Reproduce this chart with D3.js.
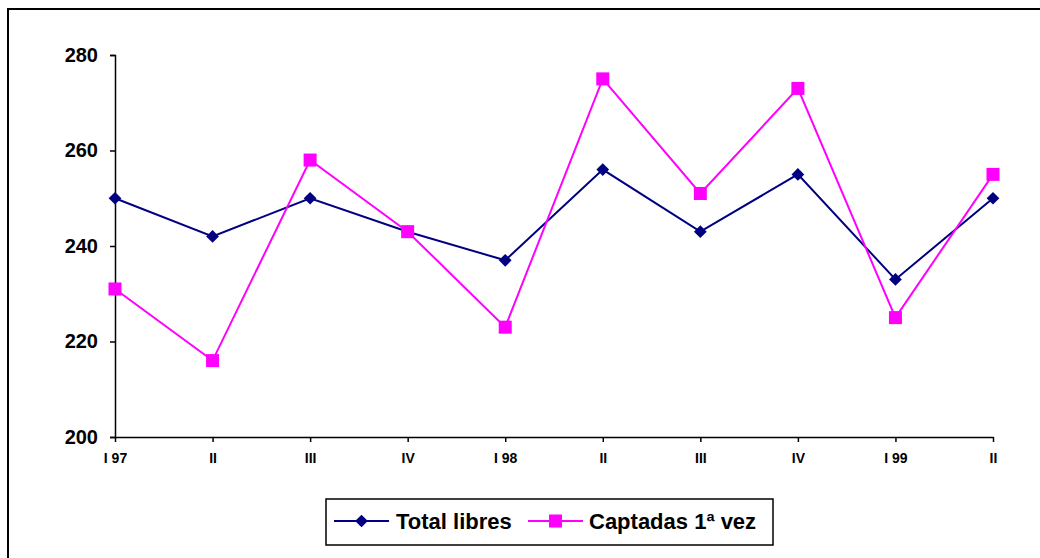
<!DOCTYPE html>
<html>
<head>
<meta charset="utf-8">
<script src="https://cdn.jsdelivr.net/npm/d3@7"></script>
<style>
  html, body { margin: 0; padding: 0; background: #fff; }
  svg { display: block; font-family: Arial, "Liberation Sans", sans-serif; font-weight: bold; }
</style>
</head>
<body>
<svg id="chart" width="1040" height="558"></svg>
<script>
// Quarterly periods
const categories = ["I 97", "II", "III", "IV", "I 98", "II", "III", "IV", "I 99", "II"];
// Series values
const totalLibres = [250, 242, 250, 243, 237, 256, 243, 255, 233, 250];
const captadas = [231, 216, 258, 243, 223, 275, 251, 273, 225, 255];
// Y axis ticks
const yTicks = [200, 220, 240, 260, 280];
const seriesNames = ["Total libres", "Captadas 1ª vez"];

const svg = d3.select("#chart");

// Outer frame (runs off the right and bottom edges)
svg.append("rect")
  .attr("x", 8).attr("y", 9)
  .attr("width", 1060).attr("height", 580)
  .attr("fill", "#fff").attr("stroke", "#000").attr("stroke-width", 2);

const idx = categories.map((_, i) => i);
const x = d3.scalePoint().domain(idx).range([115, 993]);
const y = d3.scaleLinear().domain([200, 280]).range([437, 55]);

// Y axis
const yAxis = svg.append("g")
  .attr("transform", "translate(115,0)")
  .call(d3.axisLeft(y).tickValues(yTicks).tickSize(5).tickPadding(12).tickFormat(d3.format("d")));
yAxis.select(".domain").attr("stroke", "#000").attr("stroke-width", 1.5);
yAxis.selectAll(".tick line").attr("stroke", "#000").attr("stroke-width", 1.5);
yAxis.selectAll(".tick text")
  .attr("font-size", 20).attr("font-weight", "bold").attr("fill", "#000")
  .attr("font-family", "Arial, 'Liberation Sans', sans-serif");

// X axis
const xAxis = svg.append("g")
  .attr("transform", "translate(0,437)")
  .call(d3.axisBottom(x).tickSize(5).tickSizeOuter(0).tickPadding(11).tickFormat(i => categories[i]));
xAxis.select(".domain").attr("stroke", "#000").attr("stroke-width", 1.5);
xAxis.selectAll(".tick line").attr("stroke", "#000").attr("stroke-width", 1.5);
xAxis.selectAll(".tick text")
  .attr("font-size", 14).attr("font-weight", "bold").attr("fill", "#000")
  .attr("font-family", "Arial, 'Liberation Sans', sans-serif");

const line = d3.line().x((d, i) => x(i)).y(d => y(d));

// Total libres: navy line with diamonds
svg.append("path").datum(totalLibres)
  .attr("d", line).attr("fill", "none")
  .attr("stroke", "#000080").attr("stroke-width", 2);
svg.append("g").selectAll("path").data(totalLibres).join("path")
  .attr("d", d3.symbol().type(d3.symbolSquare).size(81))
  .attr("transform", (d, i) => `translate(${x(i)},${y(d)}) rotate(45)`)
  .attr("fill", "#000080");

// Captadas 1ª vez: magenta line with squares
svg.append("path").datum(captadas)
  .attr("d", line).attr("fill", "none")
  .attr("stroke", "#FF00FF").attr("stroke-width", 2);
svg.append("g").selectAll("rect").data(captadas).join("rect")
  .attr("x", (d, i) => x(i) - 6.5).attr("y", d => y(d) - 6.5)
  .attr("width", 13).attr("height", 13)
  .attr("fill", "#FF00FF");

// Legend
const legend = svg.append("g");
legend.append("rect")
  .attr("x", 326).attr("y", 499).attr("width", 447).attr("height", 46)
  .attr("fill", "#fff").attr("stroke", "#000").attr("stroke-width", 1.5);
// Total libres entry
legend.append("line").attr("x1", 334).attr("x2", 389).attr("y1", 521).attr("y2", 521)
  .attr("stroke", "#000080").attr("stroke-width", 2);
legend.append("path")
  .attr("d", d3.symbol().type(d3.symbolSquare).size(81))
  .attr("transform", "translate(361.5,521) rotate(45)")
  .attr("fill", "#000080");
legend.append("text").attr("x", 396).attr("y", 529)
  .attr("font-size", 22).attr("fill", "#000").text(seriesNames[0]);
// Captadas entry
legend.append("line").attr("x1", 528).attr("x2", 583).attr("y1", 521).attr("y2", 521)
  .attr("stroke", "#FF00FF").attr("stroke-width", 2);
legend.append("rect").attr("x", 549).attr("y", 514.5).attr("width", 13).attr("height", 13)
  .attr("fill", "#FF00FF");
legend.append("text").attr("x", 589).attr("y", 529)
  .attr("font-size", 22).attr("fill", "#000").text(seriesNames[1]);
</script>
</body>
</html>
